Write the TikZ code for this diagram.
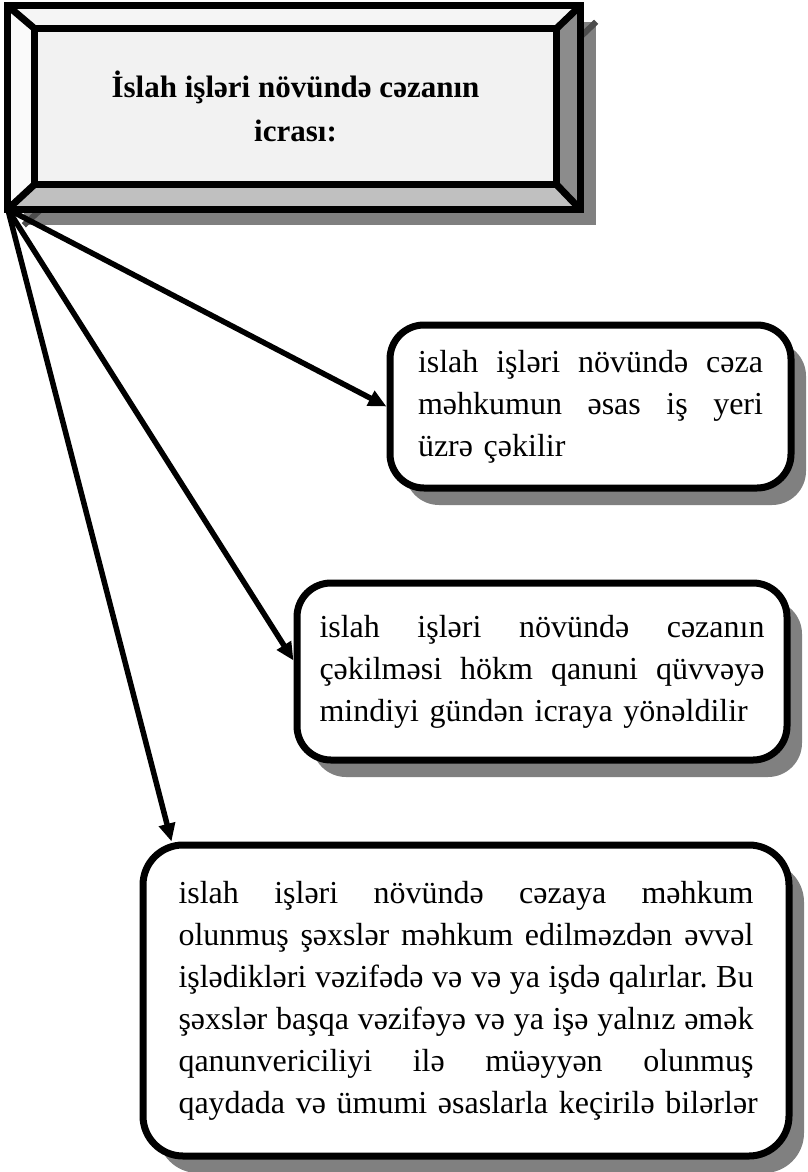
\documentclass[tikz,border=0pt]{standalone}
\usepackage{fontspec}
\setmainfont{Liberation Serif}
\usetikzlibrary{arrows.meta,calc,shadows}
\definecolor{faceleft}{RGB}{250,250,250}
\definecolor{facetop}{RGB}{245,245,245}
\definecolor{faceinner}{RGB}{242,242,242}
\definecolor{faceright}{RGB}{140,140,140}
\definecolor{facebottom}{RGB}{192,192,192}
\definecolor{shadowgray}{RGB}{128,128,128}
\newcommand{\jline}[2]{\makebox[#1][s]{\spaceskip=.25em plus 1fil\xspaceskip=\spaceskip #2}\\}
\newcommand{\lline}[1]{\mbox{#1}}

\begin{document}
\begin{tikzpicture}[x=1pt, y=-1pt,
		bevel/.style={line width=7pt, line join=miter},
		card/.style={draw, line width=7pt, rounded corners=34pt, fill=white, inner sep=0pt, align=left,
			font=\fontsize{32}{42}\selectfont,
			drop shadow={shadow xshift=15pt, shadow yshift=-17pt, fill=shadowgray, opacity=1}},
		arr/.style={line width=5.5pt, -{Triangle[length=18pt, width=16pt]}}]
			\useasboundingbox (0,0) rectangle (807,1172);
			\node (frame) [minimum width=572pt, minimum height=203pt, inner sep=0pt, fill=faceleft,
				drop shadow={shadow xshift=16pt, shadow yshift=-16pt, fill=shadowgray, opacity=1}] at (294,107.5) {};
			\node (title) [minimum width=521pt, minimum height=155pt, inner sep=0pt, fill=faceinner, align=center,
				font=\bfseries\fontsize{31}{44}\selectfont] at (295.5,106.5) {İslah işləri növündə cəzanın\\icrası:};
			\draw[line width=6pt, black!70] ([shift={(16,16)}]frame.north east) -- ([shift={(16,16)}]title.north east);
			\draw[line width=6pt, black!70] ([shift={(16,16)}]frame.south west) -- ([shift={(16,16)}]title.south west);
			\fill[facetop] (frame.north west) -- (frame.north east) -- (title.north east) -- (title.north west) -- cycle;
			\fill[faceright] (frame.north east) -- (frame.south east) -- (title.south east) -- (title.north east) -- cycle;
			\fill[facebottom] (frame.south east) -- (frame.south west) -- (title.south west) -- (title.south east) -- cycle;
			\draw[bevel] (frame.north west) rectangle (frame.south east);
			\draw[bevel] (title.north west) rectangle (title.south east);
			\draw[bevel] (frame.north west) -- (title.north west);
			\draw[bevel] (frame.north east) -- (title.north east);
			\draw[bevel] (frame.south east) -- (title.south east);
			\draw[bevel] (frame.south west) -- (title.south west);

			\node (card1) [card, minimum width=401pt, minimum height=163pt, text width=345pt] at (590.5,406.5)
				{\jline{345pt}{islah işləri növündə cəza}\jline{345pt}{məhkumun əsas iş yeri}\lline{üzrə çəkilir}};
			\node (card2) [card, minimum width=490pt, minimum height=177pt, text width=445pt] at (542,671.5)
				{\jline{445pt}{islah işləri növündə cəzanın}\jline{445pt}{çəkilməsi hökm qanuni qüvvəyə}\lline{mindiyi gündən icraya yönəldilir}};
			\node (card3) [card, rounded corners=40pt, minimum width=646pt, minimum height=311pt, text width=575pt] at (466,1000.5)
				{\jline{575pt}{islah işləri növündə cəzaya məhkum}\jline{575pt}{olunmuş şəxslər məhkum edilməzdən əvvəl}\jline{575pt}{işlədikləri vəzifədə və və ya işdə qalırlar. Bu}\jline{575pt}{şəxslər başqa vəzifəyə və ya işə yalnız əmək}\jline{575pt}{qanunvericiliyi ilə müəyyən olunmuş}\lline{qaydada və ümumi əsaslarla keçirilə bilərlər}};

			\draw[arr] (frame.south west) -- (card1.west);
			\draw[arr] (frame.south west) -- ($(card2.west)+(0,-11)$);
			\draw[arr] (frame.south west) -- ($(card3.north west)+(32,0)$);
		\end{tikzpicture}
\end{document}
